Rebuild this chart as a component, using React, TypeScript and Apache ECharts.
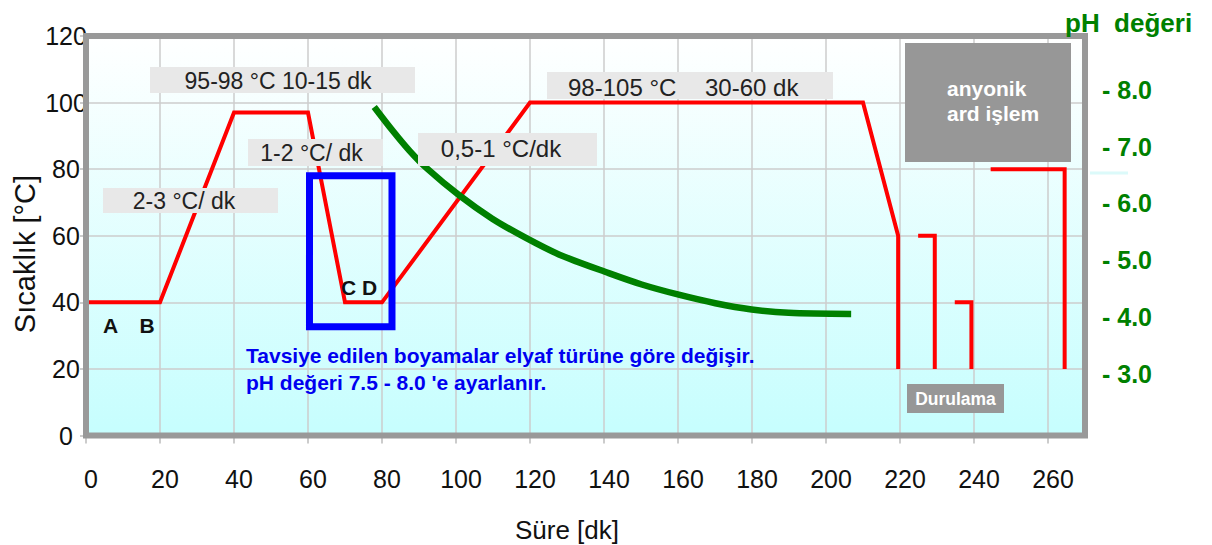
import React, { useEffect, useRef } from "react";
import * as echarts from "echarts";

// ---- data ----
const xTickLabels = [0, 20, 40, 60, 80, 100, 120, 140, 160, 180, 200, 220, 240, 260];
const yTickLabels = [0, 20, 40, 60, 80, 100, 120];
const phTickLabels = [3, 4, 5, 6, 7, 8];

// main temperature profile (time [dk], temperature [°C])
const profileTime = [0, 20, 40, 60, 70, 80, 120, 210, 219.5, 219.5];
const profileTemp = [40, 40, 97, 97, 40, 40, 100, 100, 60, 20];

// rinse baths
const rinse1Time = [224.9, 229.4, 229.4];
const rinse1Temp = [60, 60, 20];
const rinse2Time = [234.8, 239.3, 239.3];
const rinse2Temp = [40, 40, 20];
const rinse3Time = [244.5, 264.5, 264.5];
const rinse3Temp = [80, 80, 20];

// highlighted dyeing window (blue frame)
const frameTime = [60.4, 60.4, 82.7, 82.7, 60.4];
const frameTemp = [32.7, 78, 78, 32.7, 32.7];

// pH curve
const phTime = [77.9, 82.9, 87.4, 91.9, 100.9, 109.8, 118.9, 127.8, 141.3, 150.2, 160.2, 170.1, 179.9, 189.9, 206.8];
const phValues = [7.7, 7.28, 6.93, 6.63, 6.14, 5.73, 5.39, 5.1, 4.77, 4.57, 4.39, 4.24, 4.13, 4.07, 4.05];

const zip = (a: number[], b: number[]) => a.map((v, i) => [v, b[i]]);

const FONT = "Arial, 'Liberation Sans', sans-serif";
const RED = "#ff0000";
const GREEN = "#008000";
const GRID_LINE = { color: "#cdcdcd", width: 1.5 };

function box(x: number, y: number, w: number, h: number, fill = "#e8e8e8") {
  return { type: "rect", shape: { x, y, width: w, height: h }, style: { fill }, z: 100 };
}
function txt(
  x: number,
  y: number,
  text: string,
  size: number,
  fill: string,
  opts: any = {}
) {
  return {
    type: "text",
    x,
    y,
    rotation: opts.rotation || 0,
    z: 101,
    style: {
      text,
      fill,
      fontSize: size,
      fontFamily: FONT,
      fontWeight: opts.bold ? "bold" : "normal",
      align: opts.align || "center",
      verticalAlign: opts.verticalAlign || "middle",
      lineHeight: opts.lineHeight,
    },
  };
}

export default function App() {
  const ref = useRef<HTMLDivElement>(null);
  useEffect(() => {
    const chart = echarts.init(ref.current!, null, { renderer: "svg" });
    const redLine = { color: RED, width: 4, join: "miter" };
    const option: any = {
      animation: false,
      textStyle: { fontFamily: FONT },
      grid: {
        left: 86,
        right: 127,
        top: 36,
        bottom: 109.5,
        show: true,
        borderWidth: 0,
        backgroundColor: {
          type: "linear",
          x: 0,
          y: 0,
          x2: 0,
          y2: 1,
          colorStops: [
            { offset: 0, color: "#ffffff" },
            { offset: 1, color: "#c6fefe" },
          ],
        },
      },
      xAxis: {
        type: "value",
        min: 0,
        max: 270,
        interval: 10,
        axisLine: { show: false },
        axisTick: { show: true, length: 8, customValues: xTickLabels, lineStyle: { color: "#bbbbbb", width: 1.5 } },
        axisLabel: {
          customValues: xTickLabels,
          formatter: (v: number) => (v % 20 === 0 && v <= 260 ? String(v) : ""),
          fontSize: 25,
          color: "#111",
          margin: 31,
          padding: [0, 0, 0, 10],
        },
        splitLine: { show: true, lineStyle: GRID_LINE },
      },
      yAxis: [
        {
          type: "value",
          min: 0,
          max: 120,
          interval: 10,
          axisLine: { show: false },
          axisTick: { show: true, length: 6, customValues: yTickLabels, lineStyle: { color: "#bbbbbb", width: 1.5 } },
          axisLabel: {
            customValues: yTickLabels,
            formatter: (v: number) => (v % 20 === 0 ? String(v) : ""),
            fontSize: 25,
            color: "#111",
            align: "center",
            margin: 20,
            padding: [12, 0, 0, 0],
          },
          splitLine: { show: true, lineStyle: GRID_LINE },
        },
        {
          type: "value",
          position: "right",
          min: 1.908,
          max: 8.95,
          axisLine: { show: false },
          axisTick: { show: false },
          splitLine: { show: false },
          axisLabel: {
            customValues: phTickLabels,
            formatter: (v: number) => (v >= 3 && v <= 8 ? "- " + v.toFixed(1) : ""),
            fontSize: 25,
            fontWeight: "bold",
            color: GREEN,
            margin: 17,
          },
        },
      ],
      series: [
        { type: "line", data: zip(profileTime, profileTemp), symbol: "none", lineStyle: redLine, z: 3 },
        { type: "line", data: zip(rinse1Time, rinse1Temp), symbol: "none", lineStyle: redLine, z: 3 },
        { type: "line", data: zip(rinse2Time, rinse2Temp), symbol: "none", lineStyle: redLine, z: 3 },
        { type: "line", data: zip(rinse3Time, rinse3Temp), symbol: "none", lineStyle: redLine, z: 3 },
        {
          type: "line",
          data: zip(frameTime, frameTemp),
          symbol: "none",
          lineStyle: { color: "#0000ff", width: 7, join: "miter", cap: "square" },
          z: 4,
        },
        {
          type: "line",
          yAxisIndex: 1,
          data: zip(phTime, phValues),
          symbol: "none",
          smooth: 0.3,
          lineStyle: { color: GREEN, width: 6.5, cap: "butt" },
          z: 5,
        },
      ],
      graphic: [
        // plot frame
        {
          type: "rect",
          shape: { x: 86, y: 36, width: 999, height: 399.5 },
          style: { fill: "none", stroke: "#999999", lineWidth: 6 },
          z: 50,
        },
        // annotation boxes
        box(150, 67, 265, 26),
        txt(278, 81, "95-98 °C 10-15 dk", 23, "#222"),
        box(248, 139, 135, 27),
        txt(311.5, 153, "1-2 °C/ dk", 23, "#222"),
        box(103, 188, 175, 25),
        txt(184, 201, "2-3 °C/ dk", 23, "#222"),
        box(418, 133, 179, 33),
        txt(501, 148, "0,5-1 °C/dk", 24, "#222"),
        box(547, 72, 286, 27),
        txt(568, 87, "98-105 °C", 24, "#222", { align: "left" }),
        txt(705, 87, "30-60 dk", 24, "#222", { align: "left" }),
        box(905, 43, 166, 119, "#979797"),
        txt(947, 101, "anyonik\nard işlem", 21, "#ffffff", { align: "left", lineHeight: 25, bold: true }),
        box(907, 384, 97, 29, "#979797"),
        txt(955.5, 398.5, "Durulama", 17.5, "#ffffff", { bold: true }),
        // stage letters
        txt(110.5, 325, "A", 21, "#111", { bold: true }),
        txt(147, 325, "B", 21, "#111", { bold: true }),
        txt(359, 287, "C D", 21, "#111", { bold: true }),
        // note
        txt(
          246,
          342,
          "Tavsiye edilen boyamalar elyaf türüne göre değişir.\npH değeri 7.5 - 8.0 'e ayarlanır.",
          21,
          "#0000f0",
          { align: "left", verticalAlign: "top", bold: true, lineHeight: 27 }
        ),
        // axis titles
        txt(567, 530, "Süre [dk]", 26, "#111"),
        txt(25, 254, "Sıcaklık [°C]", 29, "#111", { rotation: Math.PI / 2 }),
        txt(1065, 23, "pH  değeri", 26, GREEN, { align: "left", bold: true }),
        // faint cyan mark outside the frame
        {
          type: "line",
          shape: { x1: 1090, y1: 173, x2: 1128, y2: 173 },
          style: { stroke: "#dcfafa", lineWidth: 3 },
          z: 1,
        },
      ],
    };
    chart.setOption(option);
    return () => chart.dispose();
  }, []);
  return (
    <div
      ref={ref}
      style={{ position: "fixed", left: 0, top: 0, width: 1212, height: 545, background: "#ffffff" }}
    />
  );
}
